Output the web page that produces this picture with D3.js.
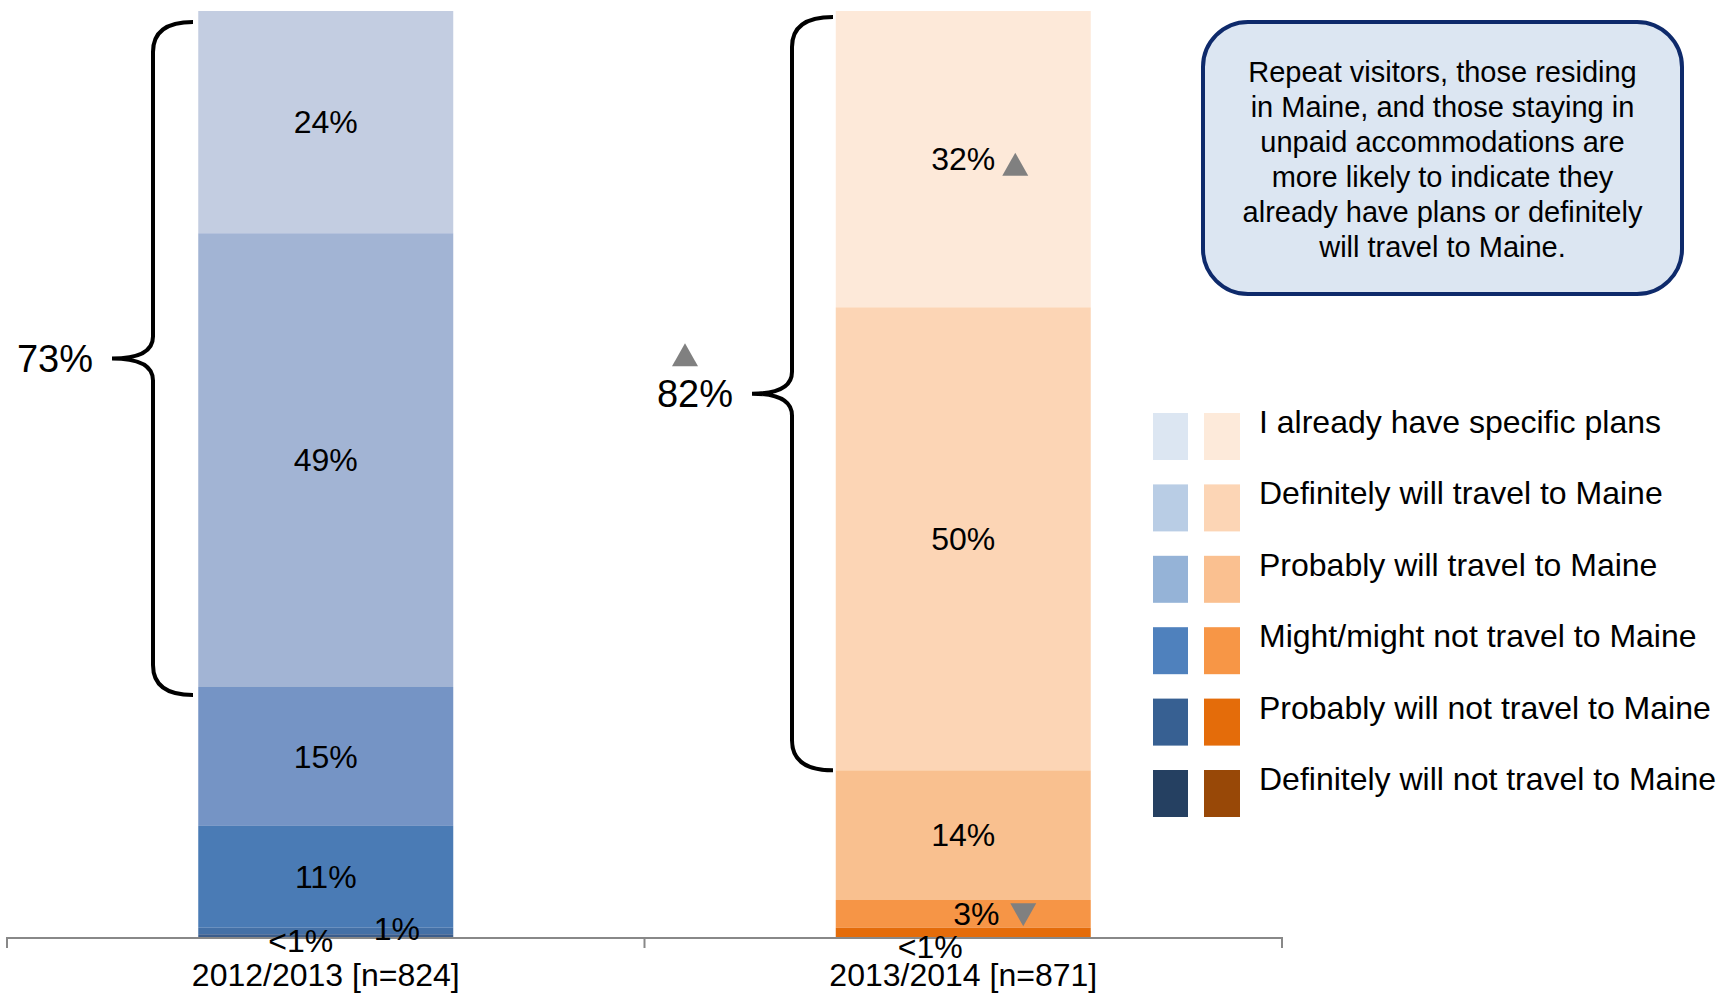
<!DOCTYPE html>
<html>
<head>
<meta charset="utf-8">
<script src="https://cdn.jsdelivr.net/npm/d3@7"></script>
<style>
  html, body { margin: 0; padding: 0; background: #fff; }
  svg { display: block; font-family: "Liberation Sans", Arial, sans-serif; }
</style>
</head>
<body>
<svg id="chart" width="1720" height="993"></svg>
<script>
// ---------------- data ----------------
const categories = ["2012/2013 [n=824]", "2013/2014 [n=871]"];
const values2012 = [24, 49, 15, 11, 0.7, 0.3];
const labels2012 = ["24%", "49%", "15%", "11%", "1%", "<1%"];
const colors2012 = ["#C3CDE1", "#A2B4D4", "#7594C5", "#4A7BB5", "#4470A6", "#3B5D8C"];
const values2013 = [32, 50, 14, 3, 1];
const labels2013 = ["32%", "50%", "14%", "3%", "<1%"];
const colors2013 = ["#FDE9D9", "#FCD5B5", "#F9C08F", "#F69546", "#E46C0A"];
const bracketLabels = ["73%", "82%"];
const bracketSegments = [2, 2];           // number of top segments covered by each bracket
const legendLabels = [
  "I already have specific plans",
  "Definitely will travel to Maine",
  "Probably will travel to Maine",
  "Might/might not travel to Maine",
  "Probably will not travel to Maine",
  "Definitely will not travel to Maine"
];
const legendBlue = ["#DCE6F2", "#B9CDE5", "#95B3D7", "#4F81BD", "#376092", "#254061"];
const legendOrange = ["#FDEADA", "#FCD5B5", "#FAC090", "#F79646", "#E46C0A", "#984807"];
const noteLines = [
  "Repeat visitors, those residing",
  "in Maine, and those staying in",
  "unpaid accommodations are",
  "more likely to indicate they",
  "already have plans or definitely",
  "will travel to Maine."
];

// label offsets (style / placement only)
const labelOffsets = [
  [[0,0],[0,0],[0,0],[0,0],[71,-2],[-25,5]],
  [[0,0],[0,0],[0,0],[13,0],[-33,14]]
];
// significance markers: [bar, segment, direction, dx, dy]
const markers = [
  [1, 0, "up", 52, 5],
  [1, 3, "down", 60, 1]
];

// ---------------- scales ----------------
const svg = d3.select("#chart");
const x = d3.scaleBand().domain(categories).range([7, 1282]).padding(0);
const y = d3.scaleLinear().domain([0, 100]).range([937, 11]);
const barW = x.bandwidth() * 0.4;

const bars = [
  { cat: categories[0], values: values2012, labels: labels2012, colors: colors2012 },
  { cat: categories[1], values: values2013, labels: labels2013, colors: colors2013 }
];

bars.forEach((b, bi) => {
  const cx = x(b.cat) + x.bandwidth() / 2;
  let cum = 100;
  b.segs = b.values.map((v, i) => {
    const top = cum; cum -= v;
    return { top, bottom: cum, v, label: b.labels[i], color: b.colors[i] };
  });
  b.cx = cx;
  const g = svg.append("g");
  g.selectAll("rect").data(b.segs).join("rect")
    .attr("x", cx - barW / 2)
    .attr("width", barW)
    .attr("y", d => y(d.top))
    .attr("height", d => y(d.bottom) - y(d.top))
    .attr("fill", d => d.color);
});

// axis
const axisG = svg.append("g");
axisG.append("line")
  .attr("x1", x.range()[0]).attr("x2", x.range()[1])
  .attr("y1", y(0) + 1).attr("y2", y(0) + 1)
  .attr("stroke", "#888").attr("stroke-width", 2);
const boundaries = [x(categories[0]), x(categories[1]), x(categories[1]) + x.bandwidth()];
axisG.selectAll("line.tick").data(boundaries).join("line")
  .attr("class", "tick")
  .attr("x1", d => d).attr("x2", d => d)
  .attr("y1", y(0)).attr("y2", y(0) + 11)
  .attr("stroke", "#888").attr("stroke-width", 2);
axisG.selectAll("text").data(categories).join("text")
  .attr("x", d => x(d) + x.bandwidth() / 2)
  .attr("y", 986)
  .attr("text-anchor", "middle")
  .attr("font-size", 32)
  .attr("fill", "#000")
  .text(d => d);

// data labels
bars.forEach((b, bi) => {
  svg.append("g").selectAll("text").data(b.segs).join("text")
    .attr("x", (d, i) => b.cx + labelOffsets[bi][i][0])
    .attr("y", (d, i) => (y(d.top) + y(d.bottom)) / 2 + labelOffsets[bi][i][1])
    .attr("dy", "0.35em")
    .attr("text-anchor", "middle")
    .attr("font-size", 32)
    .attr("fill", "#000")
    .text(d => d.label);
});

// triangles
function tri(cx, cy, dir) {
  const w = 13, h = 11.5;
  return dir === "up"
    ? `M${cx - w},${cy + h}L${cx + w},${cy + h}L${cx},${cy - h}Z`
    : `M${cx - w},${cy - h}L${cx + w},${cy - h}L${cx},${cy + h}Z`;
}
markers.forEach(([bi, si, dir, dx, dy]) => {
  const b = bars[bi], s = b.segs[si];
  svg.append("path")
    .attr("d", tri(b.cx + dx, (y(s.top) + y(s.bottom)) / 2 + dy, dir))
    .attr("fill", "#808080");
});

// brackets
const bracketCfg = [
  { xEnd: 193, xV: 153, xP: 112, topInset: 11, botInset: 8 },
  { xEnd: 833, xV: 792, xP: 752, topInset: 6, botInset: 0 }
];
bars.forEach((b, bi) => {
  const c = bracketCfg[bi];
  const segs = b.segs.slice(0, bracketSegments[bi]);
  const y0 = y(segs[0].top) + c.topInset;
  const y1 = y(segs[segs.length - 1].bottom) + c.botInset;
  const ym = (y0 + y1) / 2;
  const r = 30, rp = 22;
  const p = d3.path();
  p.moveTo(c.xEnd, y0);
  p.quadraticCurveTo(c.xV, y0, c.xV, y0 + r);
  p.lineTo(c.xV, ym - rp);
  p.quadraticCurveTo(c.xV, ym, c.xP, ym);
  p.quadraticCurveTo(c.xV, ym, c.xV, ym + rp);
  p.lineTo(c.xV, y1 - r);
  p.quadraticCurveTo(c.xV, y1, c.xEnd, y1);
  svg.append("path").attr("d", p.toString())
    .attr("fill", "none").attr("stroke", "#000").attr("stroke-width", 4);
  svg.append("text")
    .attr("x", c.xP - 19)
    .attr("y", ym)
    .attr("dy", "0.36em")
    .attr("text-anchor", "end")
    .attr("font-size", 38)
    .text(bracketLabels[bi]);
  if (bi === 1) {
    svg.append("path").attr("d", tri(c.xP - 67, ym - 39, "up")).attr("fill", "#808080");
  }
});

// legend
const lg = svg.append("g").attr("transform", "translate(1153,413)");
const rowH = 71.4;
const rows = lg.selectAll("g").data(legendLabels).join("g")
  .attr("transform", (d, i) => `translate(0,${i * rowH})`);
rows.append("rect").attr("x", 0).attr("width", 35).attr("height", 47)
  .attr("fill", (d, i) => legendBlue[i]);
rows.append("rect").attr("x", 51).attr("width", 36).attr("height", 47)
  .attr("fill", (d, i) => legendOrange[i]);
rows.append("text").attr("x", 106).attr("y", 20)
  .attr("font-size", 32).attr("fill", "#000")
  .text(d => d);

// note box
const nb = svg.append("g");
nb.append("rect").attr("x", 1203).attr("y", 22).attr("width", 479).attr("height", 272)
  .attr("rx", 45).attr("ry", 45)
  .attr("fill", "#DCE6F2").attr("stroke", "#0E2A6B").attr("stroke-width", 4);
nb.selectAll("text").data(noteLines).join("text")
  .attr("x", 1442.5).attr("y", (d, i) => 82 + i * 35)
  .attr("text-anchor", "middle").attr("font-size", 29).attr("fill", "#000")
  .text(d => d);
</script>
</body>
</html>
